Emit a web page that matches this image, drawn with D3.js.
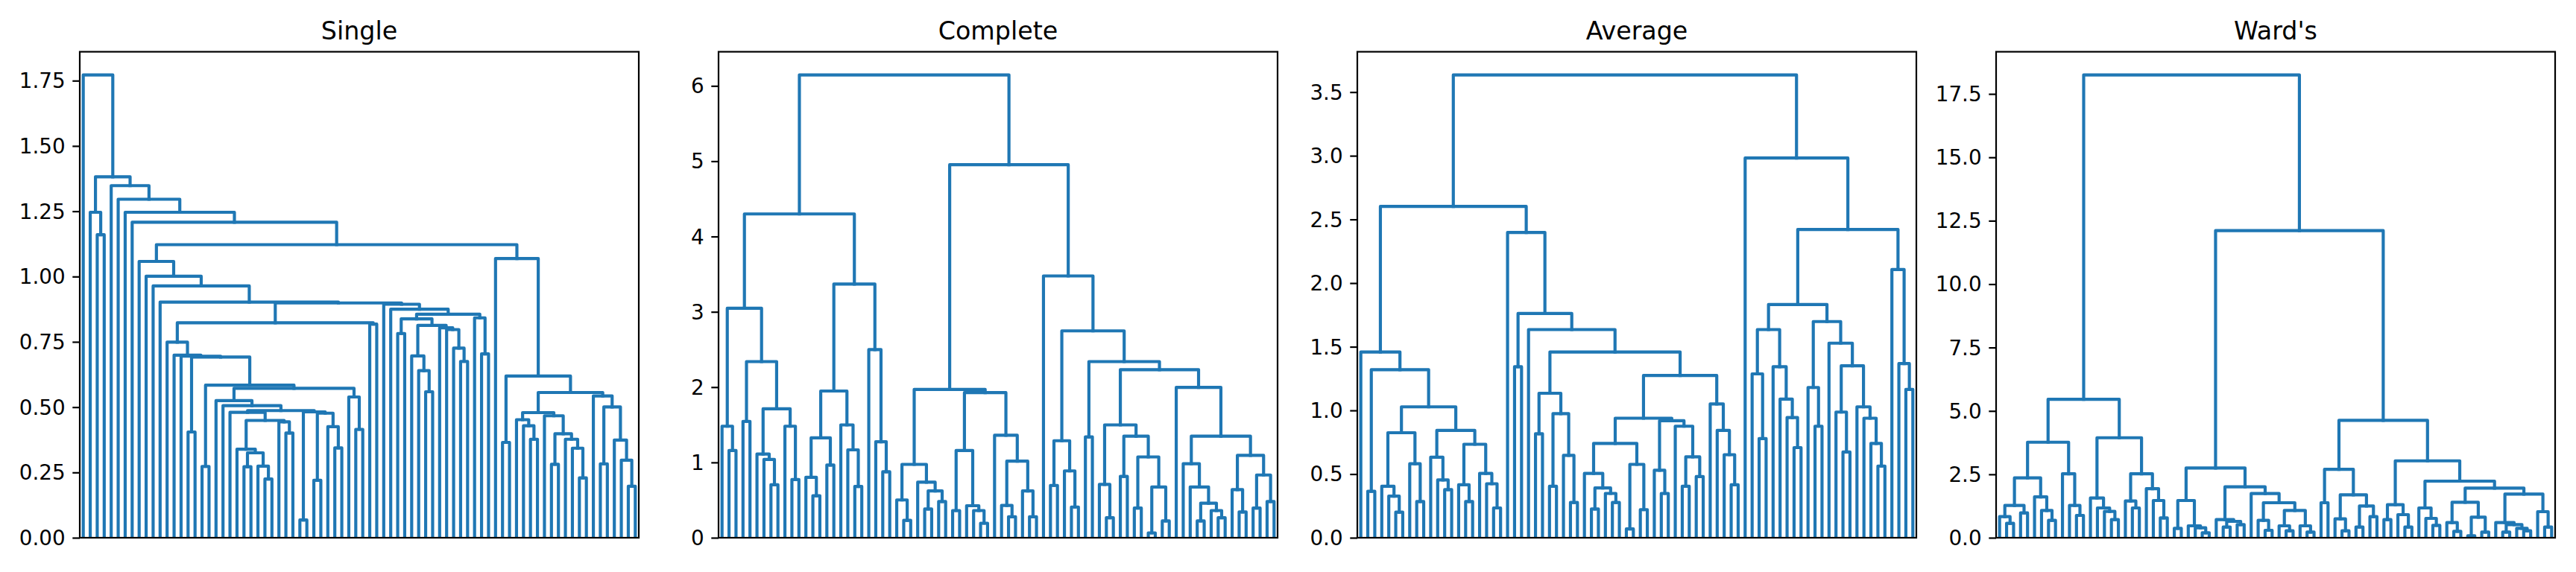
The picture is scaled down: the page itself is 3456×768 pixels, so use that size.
<!DOCTYPE html>
<html>
<head>
<meta charset="utf-8">
<script src="https://cdn.jsdelivr.net/npm/d3@7"></script>
<style>
html, body { margin: 0; padding: 0; background: #ffffff; }
svg { display: block; }
</style>
</head>
<body>
<script>
// ---------------- DATA ----------------
// Each node is [mergeHeight, leftChild, rightChild]; a leaf is its observation id.
const titles = ["Single", "Complete", "Average", "Ward's"];

// ---- Single linkage ----
const sA = [0.339, 22, [0.325, [0.272, 23, 24], [0.274, 25, [0.225, 26, 27]]]];
const sB = [0.444, 28, [0.401, 29, 30]];
const sX = [0.480, 21, [0.449, sA, sB]];
const sY = [0.482, [0.068, 31, 32], [0.477, [0.220, 33, 34], [0.425, 35, [0.344, 36, 37]]]];
const sF = [0.487, sX, sY];
const sE = [0.572, [0.525, 19, [0.506, 20, sF]], [0.539, 38, [0.415, 39, 40]]];
const sC = [0.692, [0.405, 15, 16], [0.584, [0.273, 17, 18], sE]];
const sN = [0.823, [0.749, 12, [0.699, 13, [0.695, 14, sC]]], [0.818, 41, 42]];
const sG870 = [0.813, [0.696, 47, [0.640, 48, [0.559, 49, 50]]], [0.804, 51, [0.797, 52, [0.726, 53, [0.675, 54, 55]]]]];
const sG = [0.894, 43, [0.875, 44, [0.856, [0.838, [0.782, 45, 46], sG870], [0.842, 56, [0.704, 57, 58]]]]];
const sL = [1.058, 8, [1.001, 9, [0.964, 10, [0.902, 11, [0.899, sN, sG]]]]];
const sM = [1.069, 59, [0.619, [0.365, 60, 61], [0.556, [0.479, [0.452, 62, [0.429, 63, [0.377, 64, 65]]], [0.467, 66, [0.398, [0.281, 67, 68], [0.377, 69, [0.343, 70, [0.229, 71, 72]]]]]], [0.543, 73, [0.501, [0.283, 74, 75], [0.374, 76, [0.297, 77, [0.197, 78, 79]]]]]]]];
const singleTree = [1.772, 0, [1.382, [1.246, 1, [1.160, 2, 3]], [1.348, 4, [1.296, 5, [1.246, 6, [1.208, 7, [1.122, sL, sM]]]]]]];

// ---- Complete linkage ----
const cA = [3.047, [1.481, 0, [1.159, 1, 2]], [2.339, [1.545, 3, 4], [1.712, [1.112, 5, [1.039, 6, [0.704, 7, 8]]], [1.481, 9, [0.773, 10, 11]]]]];
const cB = [3.369, [1.948, [1.326, [0.803, 12, [0.558, 13, 14]], [0.966, 15, 16]], [1.498, 17, [1.167, 18, [0.682, 19, 20]]]], [2.498, 21, [1.275, 22, [0.876, 23, 24]]]];
const cC = [1.970, [0.974, [0.502, 25, [0.232, 26, 27]], [0.738, 28, [0.622, [0.382, 29, 30], [0.481, 31, 32]]]], [1.927, [1.159, [0.361, 33, 34], [0.425, 35, [0.361, 36, [0.193, 37, 38]]]], [1.361, 39, [1.017, [0.429, 40, [0.279, 41, 42]], [0.622, 43, [0.279, 44, 45]]]]]];
const cD1 = [1.288, [0.695, 47, 48], [0.888, 49, [0.408, 50, 51]]];
const cD2 = [1.498, [0.708, 54, [0.266, 55, 56]], [1.348, [0.815, 57, 58], [1.073, [0.395, 59, 60], [0.674, [0.064, 61, 62], [0.223, 63, 64]]]]];
const cD3 = [1.996, 65, [1.348, [0.983, 66, [0.674, 67, [0.459, [0.223, 68, 69], [0.361, 70, [0.266, 71, 72]]]]], [1.094, [0.639, 73, [0.343, 74, 75]], [0.833, [0.395, 76, 77], [0.481, 78, 79]]]]];
const cD = [3.476, 46, [2.747, cD1, [2.339, [1.339, 52, 53], [2.232, cD2, cD3]]]];
const completeTree = [6.146, [4.300, cA, cB], [4.953, cC, cD]];

// ---- Average linkage ----
const aL1 = [1.028, [0.825, [0.404, 3, [0.327, 4, [0.201, 5, 6]]], [0.581, 7, [0.284, 8, 9]]], [0.843, [0.632, 10, [0.454, 11, [0.378, 12, 13]]], [0.734, [0.416, 14, [0.284, 15, 16]], [0.505, 17, [0.424, 18, [0.234, 19, 20]]]]]];
const aLeft = [1.459, 0, [1.320, [0.365, 1, 2], aL1]];
const aMidA = [1.135, [0.817, 25, 26], [0.975, [0.404, 27, 28], [0.647, 29, [0.277, 30, 31]]]];
const aB1 = [0.741, [0.505, 32, [0.391, [0.226, 33, 34], [0.348, 35, [0.277, 36, 37]]]], [0.576, [0.069, 38, 39], [0.221, 40, 41]]];
const aB2 = [0.919, [0.530, 42, [0.348, 43, 44]], [0.876, 45, [0.635, [0.404, 46, 47], [0.480, 48, 49]]]];
const aB3 = [1.051, 50, [0.843, 51, [0.652, 52, [0.416, 53, 54]]]];
const aMidB = [1.274, [0.939, aB1, aB2], aB3];
const aRight2 = [2.398, 21, [1.761, [1.343, 22, 23], [1.635, 24, [1.459, aMidA, aMidB]]]];
const aR1 = [1.635, [1.287, 56, [0.779, 57, 58]], [1.343, 59, [1.089, 60, [0.944, 61, [0.708, 62, 63]]]]];
const aR2 = [1.698, [1.180, 64, [0.876, 65, 66]], [1.528, 67, [1.350, [0.987, 68, [0.673, 69, 70]], [1.028, 71, [0.939, 72, [0.741, 73, [0.563, 74, 75]]]]]]];
const aR = [2.982, 55, [2.421, [1.832, aR1, aR2], [2.107, 76, [1.368, 77, [1.165, 78, 79]]]]];
const averageTree = [3.635, [2.602, aLeft, aRight2], aR];

// ---- Ward's linkage ----
const wA1 = [3.767, [2.358, [1.272, [0.832, 0, [0.568, 1, 2]], [0.978, 3, 4]], [1.614, 5, [1.076, 6, [0.685, 7, 8]]]], [2.524, 9, [1.272, 10, [0.881, 11, 12]]]];
const wA2 = [3.943, [1.566, 13, [1.174, 14, [1.037, 15, [0.714, 16, 17]]]], [2.524, [1.448, 18, [1.174, 19, 20]], [1.937, 21, [1.468, 22, [0.783, 23, 24]]]]];
const wB1 = [2.750, [1.468, [0.372, 25, 26], [0.470, 27, [0.391, 28, [0.196, 29, 30]]]], [2.006, [0.714, 31, [0.646, [0.421, 32, 33], [0.519, 34, 35]]], [1.742, 36, [1.380, [0.685, 37, [0.294, 38, 39]], [1.076, [0.470, 40, [0.274, 41, 42]], [0.470, 43, [0.225, 44, 45]]]]]]];
const wB2 = [2.700, [1.380, 46, 47], [1.693, [0.744, 48, [0.274, 49, 50]], [1.252, [0.421, 51, 52], [0.832, 53, 54]]]];
const wB3 = [3.033, [1.301, [0.714, 55, 56], [0.910, 57, [0.421, 58, 59]]], [2.231, [1.174, 60, [0.763, 61, [0.489, 62, 63]]], [1.957, [1.399, [0.597, 64, [0.254, 65, 66]], [0.812, [0.078, 67, 68], [0.225, 69, 70]]], [1.722, [0.597, 71, [0.519, [0.225, 72, 73], [0.372, 74, [0.274, 75, 76]]]], [1.027, 77, [0.421, 78, 79]]]]]];
const wardTree = [18.25, [5.46, wA1, wA2], [12.11, wB1, [4.628, wB2, wB3]]];

// ---- tick labels ----
const singleTicks = [0, 0.25, 0.5, 0.75, 1.0, 1.25, 1.5, 1.75];
const completeTicks = [0, 1, 2, 3, 4, 5, 6];
const averageTicks = [0, 0.5, 1.0, 1.5, 2.0, 2.5, 3.0, 3.5];
const wardTicks = [0, 2.5, 5.0, 7.5, 10.0, 12.5, 15.0, 17.5];
const tickFormats = [".2f", "d", ".1f", ".1f"];

// ---------------- LAYOUT ----------------
const W = 3456, H = 768;
const axLeft0 = 107, axStep = 857, axW = 750, axTop = 69.5, axBottom = 722;
const axH = axBottom - axTop;
const lineColor = "#1f77b4";
const fontFamily = "'DejaVu Sans', 'Liberation Sans', sans-serif";

const trees = [singleTree, completeTree, averageTree, wardTree];
const tickSets = [singleTicks, completeTicks, averageTicks, wardTicks];

const svg = d3.select("body").append("svg")
  .attr("width", W).attr("height", H)
  .attr("viewBox", `0 0 ${W} ${H}`);
svg.append("rect").attr("width", W).attr("height", H).attr("fill", "#ffffff");

const heightOf = d => Array.isArray(d.data) ? d.data[0] : 0;

trees.forEach((tree, k) => {
  const root = d3.hierarchy(tree, d => Array.isArray(d) ? [d[1], d[2]] : null);
  const leaves = root.leaves();
  const n = leaves.length;

  const x = d3.scaleLinear().domain([0, 10 * n]).range([0, axW]);
  const y = d3.scaleLinear().domain([0, heightOf(root) * 1.05]).range([axH, 0]);

  leaves.forEach((leaf, i) => { leaf.pos = 5 + 10 * i; });
  root.eachAfter(d => {
    if (d.children) d.pos = (d.children[0].pos + d.children[1].pos) / 2;
  });

  const g = svg.append("g")
    .attr("transform", `translate(${axLeft0 + k * axStep},${axTop})`);

  const clipId = "clip" + k;
  g.append("clipPath").attr("id", clipId)
    .append("rect").attr("x", 0).attr("y", 0).attr("width", axW).attr("height", axH);

  const links = root.descendants().filter(d => d.children);
  g.append("g").attr("clip-path", `url(#${clipId})`)
    .selectAll("path").data(links).join("path")
    .attr("d", d => {
      const [a, b] = d.children;
      return `M${x(a.pos)},${y(heightOf(a))}V${y(heightOf(d))}H${x(b.pos)}V${y(heightOf(b))}`;
    })
    .attr("fill", "none")
    .attr("stroke", lineColor)
    .attr("stroke-width", 4.17)
    .attr("stroke-linejoin", "round")
    .attr("stroke-linecap", "square");

  // y axis
  const axis = d3.axisLeft(y)
    .tickValues(tickSets[k])
    .tickFormat(d3.format(tickFormats[k]))
    .tickSize(9.7)
    .tickPadding(9.7);
  const ag = g.append("g").call(axis);
  ag.select(".domain").remove();
  ag.selectAll(".tick line").attr("stroke", "#000").attr("stroke-width", 2.2);
  ag.selectAll(".tick text")
    .attr("fill", "#000")
    .attr("font-family", fontFamily)
    .attr("font-size", 27.8)
    .attr("dy", "0.34em");

  // spines
  g.append("rect")
    .attr("x", 0).attr("y", 0).attr("width", axW).attr("height", axH)
    .attr("fill", "none").attr("stroke", "#000").attr("stroke-width", 2.2);

  // title
  g.append("text")
    .attr("x", axW / 2).attr("y", -16.7)
    .attr("text-anchor", "middle")
    .attr("font-family", fontFamily)
    .attr("font-size", 33.3)
    .attr("fill", "#000")
    .text(titles[k]);
});
</script>
</body>
</html>
